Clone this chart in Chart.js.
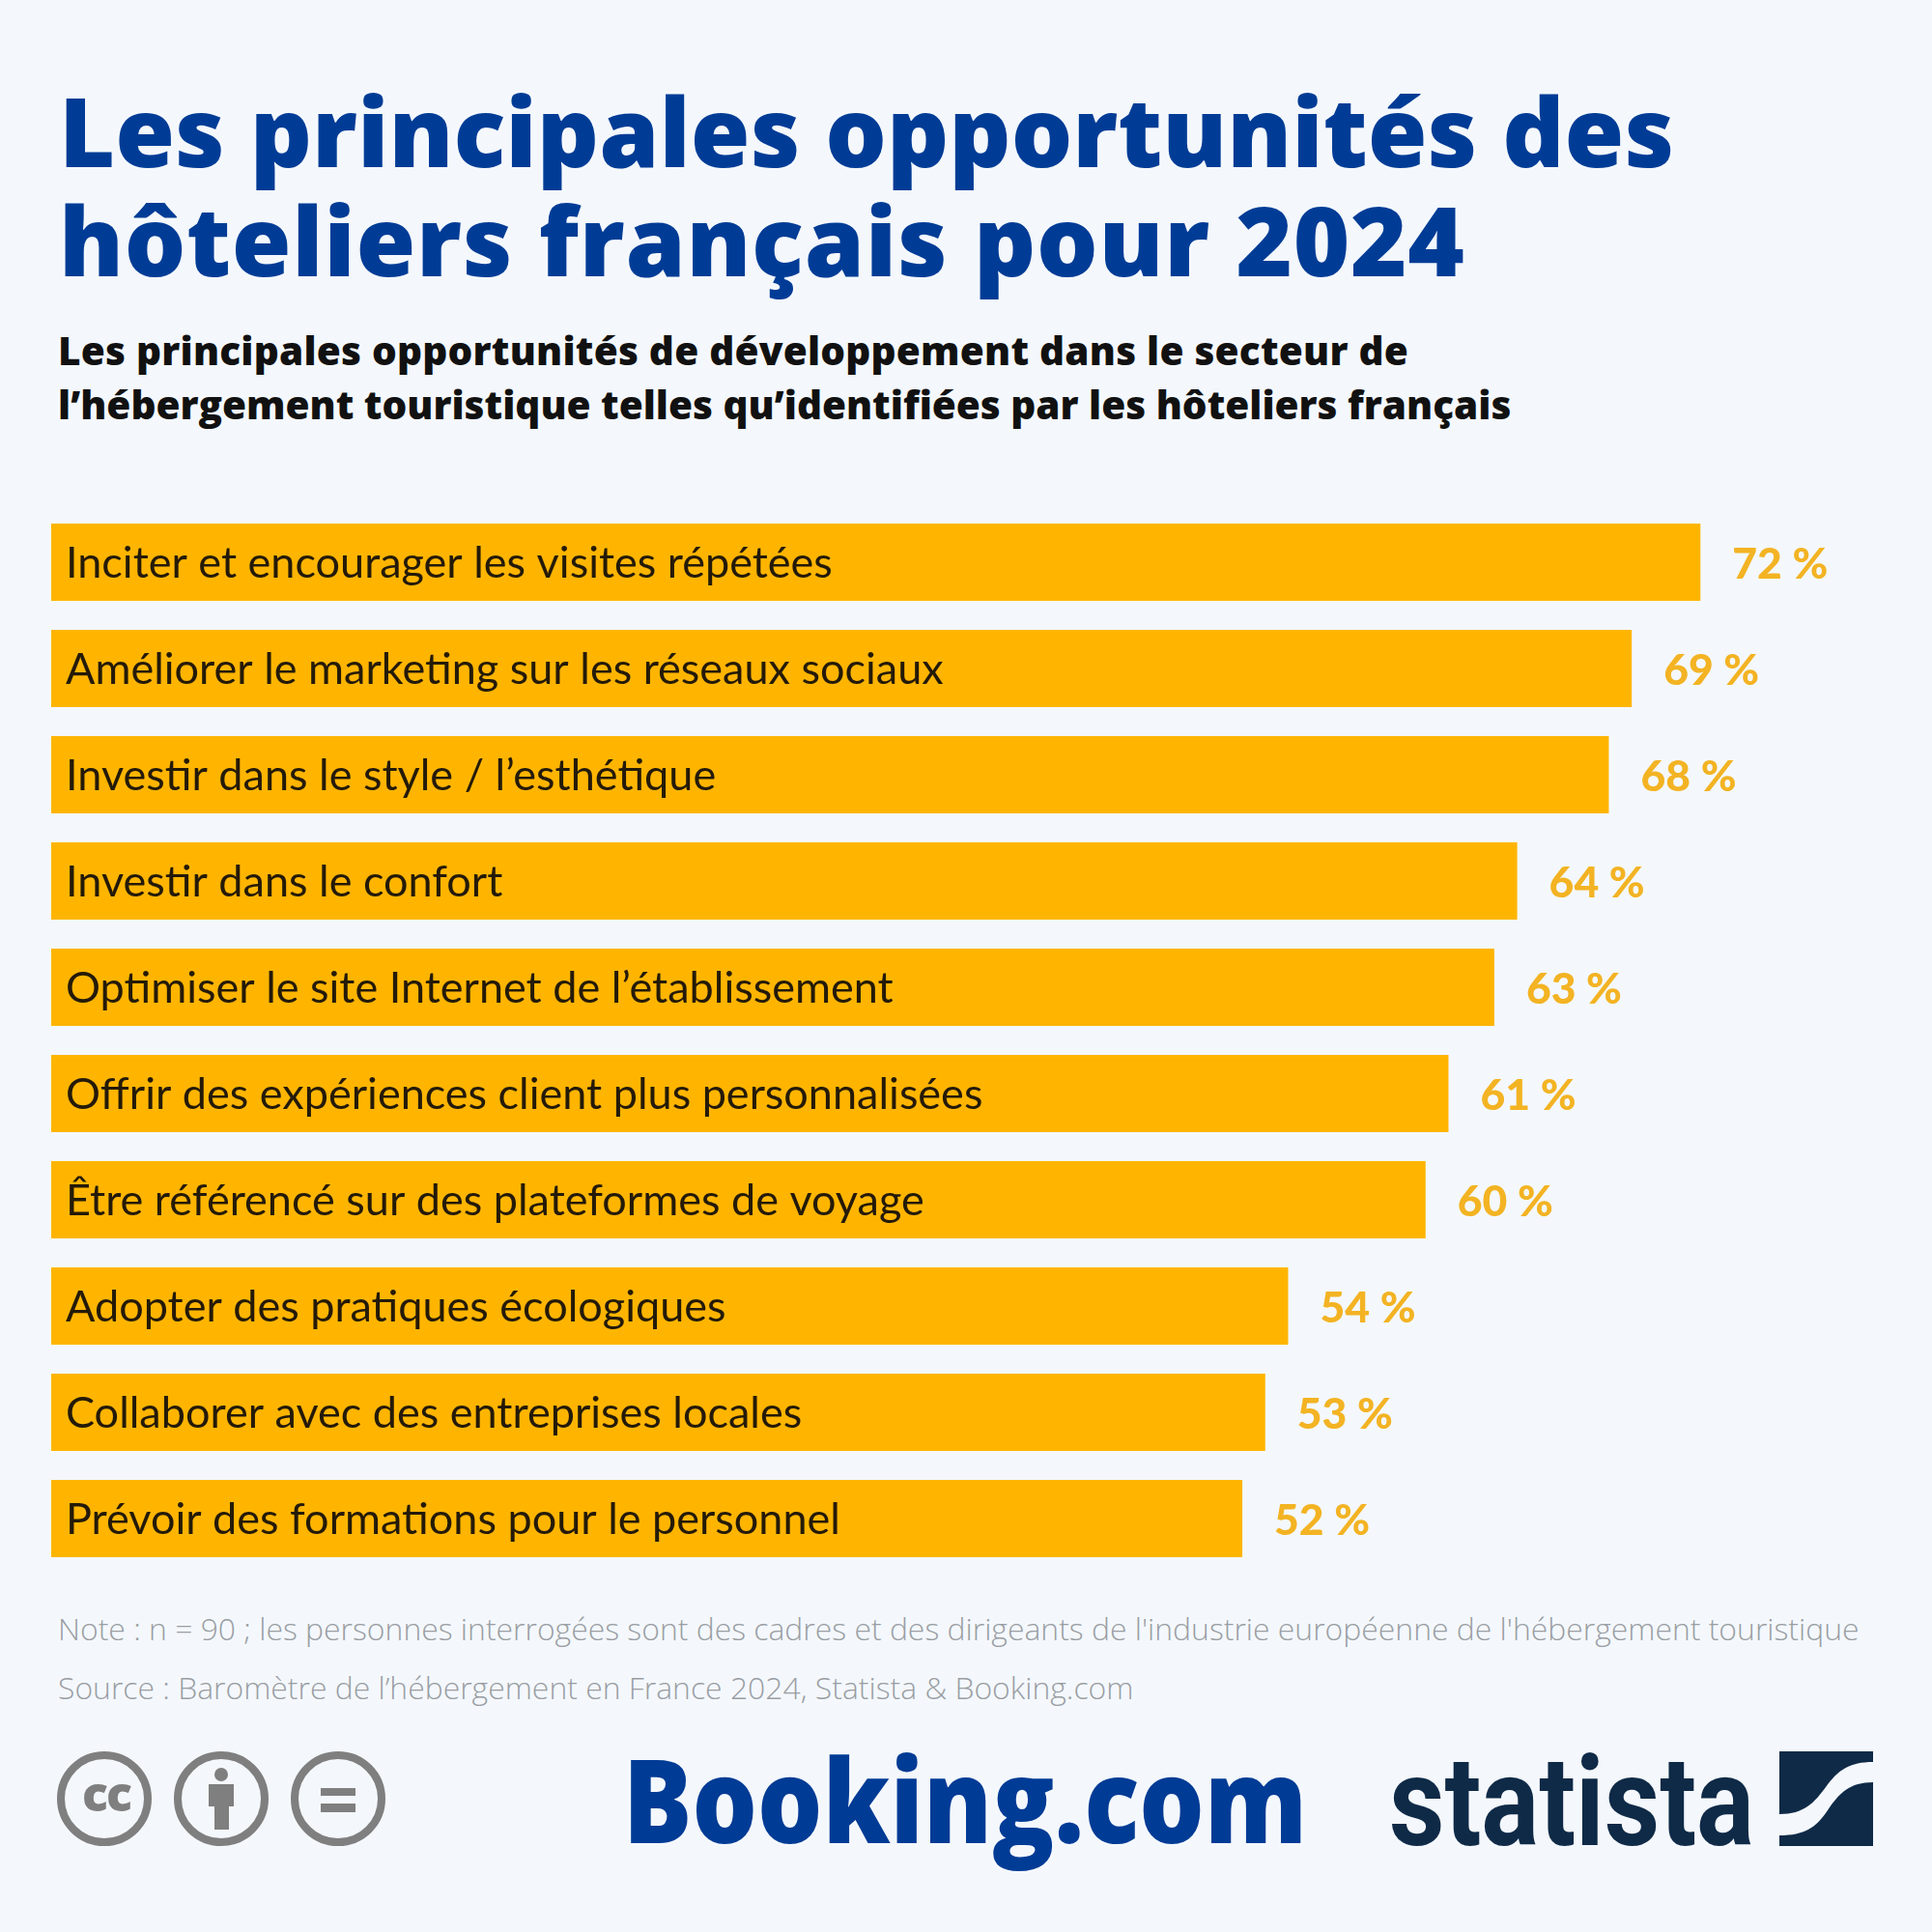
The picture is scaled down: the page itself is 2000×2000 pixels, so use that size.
<!DOCTYPE html>
<html lang="fr">
<head>
<meta charset="utf-8">
<title>Les principales opportunités des hôteliers français pour 2024</title>
<script src="https://cdn.jsdelivr.net/npm/chart.js@4"></script>
<style>
  html, body { margin: 0; padding: 0; background: #f4f8fd; }
  #page { position: relative; width: 2000px; height: 2000px; overflow: hidden; background: #f4f8fd; }
  #page div { position: absolute; white-space: nowrap; }
  #chartBox { left: 0; top: 500px; width: 2000px; height: 1160px; }
  .title { left: 61px; font: 800 100px/113px "Open Sans", sans-serif; color: #003c96; }
  .sub { left: 60px; font: 800 40.5px/56px "Open Sans", sans-serif; color: #111; }
  .note { left: 60px; font: 300 31.9px/44px "Open Sans", sans-serif; color: #9a9ea3; }
  svg { position: absolute; }
</style>
</head>
<body>
<div id="page">
  <div class="title" style="top:78px">Les principales opportunités des</div>
  <div class="title" style="top:191px;letter-spacing:0.7px">hôteliers français pour 2024</div>
  <div class="sub" style="top:335px;letter-spacing:0.23px">Les principales opportunités de développement dans le secteur de</div>
  <div class="sub" style="top:391px">l’hébergement touristique telles qu’identifiées par les hôteliers français</div>
  <div id="chartBox"><canvas id="myChart" width="2000" height="1160"></canvas></div>
  <div class="note" style="top:1664px">Note : n = 90 ; les personnes interrogées sont des cadres et des dirigeants de l'industrie européenne de l'hébergement touristique</div>
  <div class="note" style="top:1725px">Source : Baromètre de l’hébergement en France 2024, Statista &amp; Booking.com</div>

  <svg style="left:0;top:0" width="2000" height="2000">
    <g fill="none" stroke="#7f7f7f" stroke-width="8">
      <circle cx="108" cy="1862" r="45"/>
      <circle cx="229" cy="1862" r="45"/>
      <circle cx="350" cy="1862" r="45"/>
    </g>
    <text x="110" y="1875" text-anchor="middle" font-family="Open Sans" font-weight="800" font-size="50" letter-spacing="-2" fill="#7f7f7f">cc</text>
    <g fill="#7f7f7f">
      <circle cx="229" cy="1837" r="7"/>
      <rect x="216" y="1847" width="26" height="23"/>
      <rect x="222" y="1870" width="15" height="24"/>
      <rect x="332" y="1851" width="36" height="8"/>
      <rect x="332" y="1867" width="36" height="9"/>
    </g>
    <text x="645" y="1908" textLength="708" lengthAdjust="spacingAndGlyphs" font-family="Open Sans" font-weight="800" font-size="120" fill="#003b95">Booking.com</text>
    <text x="1438" y="1910" textLength="378" lengthAdjust="spacingAndGlyphs" font-family="Roboto" font-weight="700" font-size="130" fill="#0f2a47">statista</text>
    <rect x="1842" y="1813" width="97" height="98" fill="#0f2a47"/>
    <path d="M1939 1824 C1915 1824 1903 1832 1890 1850 C1878 1866 1868 1878 1842 1878 L1842 1900 C1868 1900 1880 1892 1892 1874 C1904 1856 1915 1845 1939 1845 Z" fill="#f4f8fd"/>
  </svg>
</div>

<script>
const categories = [
  'Inciter et encourager les visites répétées',
  'Améliorer le marketing sur les réseaux sociaux',
  'Investir dans le style / l’esthétique',
  'Investir dans le confort',
  'Optimiser le site Internet de l’établissement',
  'Offrir des expériences client plus personnalisées',
  'Être référencé sur des plateformes de voyage',
  'Adopter des pratiques écologiques',
  'Collaborer avec des entreprises locales',
  'Prévoir des formations pour le personnel',
];
const shares = [72, 69, 68, 64, 63, 61, 60, 54, 53, 52];

// value labels to the right of each bar
const valueLabels = {
  id: 'valueLabels',
  afterDatasetsDraw(chart) {
    const { ctx } = chart;
    ctx.save();
    ctx.font = '900 44.5px Lato';
    ctx.fillStyle = '#f3b323';
    ctx.textBaseline = 'middle';
    chart.getDatasetMeta(0).data.forEach((bar, i) => {
      ctx.fillText(shares[i] + ' %', bar.x + 33, bar.y + 3);
    });
    ctx.restore();
  },
};

new Chart('myChart', {
  type: 'bar',
  data: {
    labels: categories,
    datasets: [{
      data: shares,
      backgroundColor: '#ffb500',
      barPercentage: 80 / 110,
      categoryPercentage: 1,
    }],
  },
  options: {
    indexAxis: 'y',
    responsive: false,
    animation: false,
    devicePixelRatio: 1,
    layout: { padding: { left: 53, right: 50, top: 27, bottom: 33 } },
    plugins: { legend: { display: false }, tooltip: { enabled: false } },
    scales: {
      x: { display: false, min: 0, max: 80 },
      y: {
        grid: { display: false },
        border: { display: false },
        ticks: {
          z: 1, // labels sit on top of the bars
          mirror: true,
          padding: 15,
          labelOffset: 1,
          color: '#241a08',
          font: { family: 'Lato', size: 45 },
        },
        afterFit(scale) {
          scale.width = 0;
          scale.paddingTop = 0;
          scale.paddingBottom = 0;
        },
      },
    },
  },
  plugins: [valueLabels],
});
</script>
</body>
</html>
